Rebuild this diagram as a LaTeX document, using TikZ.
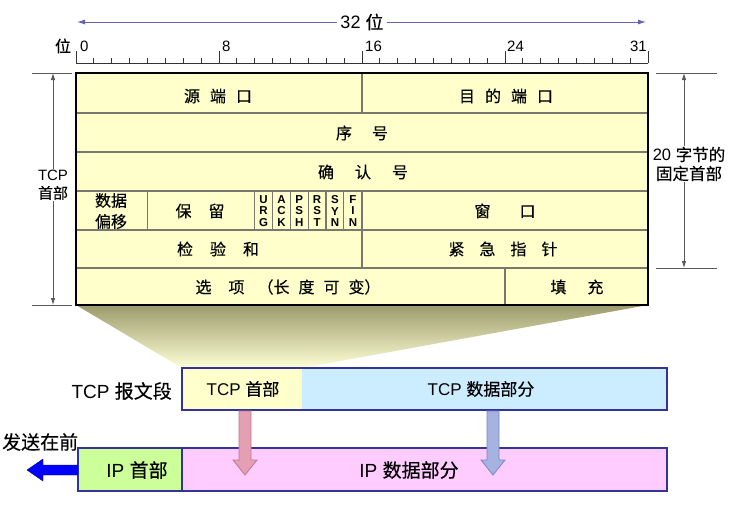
\documentclass[tikz,border=0pt]{standalone}
\usepackage{fontspec}
\setmainfont{Liberation Sans}
\newfontfamily\cjk[FakeBold=0.35]{Noto Sans CJK SC}
\newcommand\zh[1]{{\cjk #1}}
\usetikzlibrary{arrows.meta}
\definecolor{tblfill}{RGB}{255,255,204}
\definecolor{tcpdata}{RGB}{204,236,255}
\definecolor{iphdr}{RGB}{204,255,153}
\definecolor{ipdata}{RGB}{255,204,255}
\definecolor{boxline}{RGB}{51,51,153}
\definecolor{shtop}{RGB}{155,155,108}
\definecolor{shbot}{RGB}{255,255,214}
\definecolor{bitarrow}{RGB}{100,100,180}
\definecolor{rowline}{RGB}{120,120,110}
\definecolor{pinkfill}{RGB}{228,160,178}
\definecolor{pinkline}{RGB}{190,120,150}
\definecolor{bluefill}{RGB}{166,178,224}
\definecolor{blueline}{RGB}{120,135,195}
\tikzset{
  tbltext/.style={font=\fontsize{16}{18}\selectfont, inner sep=1pt},
  flagtext/.style={font=\fontsize{11.5}{11.7}\selectfont\bfseries, align=center, inner sep=0pt},
  dimtext/.style={font=\fontsize{15}{18}\selectfont, align=center, fill=white, inner sep=1pt},
  seglabel/.style={font=\fontsize{17}{20}\selectfont, inner sep=1pt},
  biglabel/.style={font=\fontsize{19}{22}\selectfont, inner sep=1pt},
  bitnum/.style={font=\fontsize{15}{17}\selectfont, inner sep=1pt},
  rowsep/.style={draw=rowline, line width=1.1pt},
  dimline/.style={draw=black!65, line width=0.8pt},
  dimtip/.style={{Latex[length=7pt,width=4.5pt]}-{Latex[length=7pt,width=4.5pt]}},
  segbox/.style={draw=boxline, line width=1.4pt},
}
\begin{document}
\begin{tikzpicture}[x=1pt,y=-1pt]
\useasboundingbox (0,0) rectangle (743,514);
% ---------- coordinates
\coordinate (TL) at (76,73);
\coordinate (TR) at (648,73);
\coordinate (BL) at (76,305);
\coordinate (BR) at (648,305);
% ---------- trapezoid
\coordinate (SL) at (182,368);
\coordinate (SM) at (302,368);
\shade[top color=shtop, bottom color=shbot] (BL) -- (BR) -- (SM) -- (SL) -- cycle;
% ---------- table
\fill[tblfill] (TL) rectangle (BR);
\foreach \yy in {113,152,191,230,268} \draw[rowsep] (76,\yy) -- (648,\yy);
\draw[rowsep] (362,73) -- (362,113);
\foreach \xx in {147.5,254.5,272.4,290.3,308.1,326,343.9,362} \draw[rowsep] (\xx,191) -- (\xx,230);
\draw[rowsep] (362,230) -- (362,268);
\draw[rowsep] (505,268) -- (505,305);
\draw[line width=2pt] (TL) rectangle (BR);
% ---------- table texts
\node[tbltext] (srcport) at (218,96) {\zh{源\hspace{10pt}端\hspace{10pt}口}};
\node[tbltext] (dstport) at (506,96) {\zh{目\hspace{10pt}的\hspace{10pt}端\hspace{10pt}口}};
\node[tbltext] (seq) at (362,133) {\zh{序\hspace{20pt}号}};
\node[tbltext] (ack) at (363,172) {\zh{确\hspace{21pt}认\hspace{21pt}号}};
\node[tbltext, align=center, font=\fontsize{16}{21}\selectfont] (offset) at (111,211) {\zh{数据}\\\zh{偏移}};
\node[tbltext] (resv) at (200,211) {\zh{保\hspace{17pt}留}};
\node[flagtext] (urg) at (263.5,211) {U\\R\\G};
\node[flagtext] (ackf) at (281.4,211) {A\\C\\K};
\node[flagtext] (psh) at (299.2,211) {P\\S\\H};
\node[flagtext] (rst) at (317.1,211) {R\\S\\T};
\node[flagtext] (syn) at (335,211) {S\\Y\\N};
\node[flagtext] (fin) at (352.9,211) {F\\I\\N};
\node[tbltext] (win) at (505,211) {\zh{窗\hspace{29pt}口}};
\node[tbltext] (chk) at (218,249) {\zh{检\hspace{17pt}验\hspace{17pt}和}};
\node[tbltext] (urgp) at (503,249) {\zh{紧\hspace{15pt}急\hspace{15pt}指\hspace{15pt}针}};
\node[tbltext] (opt) at (288,287) {\zh{选\hspace{17pt}项\hspace{13pt}（长\hspace{9pt}度\hspace{9pt}可\hspace{9pt}变）}};
\node[tbltext] (pad) at (577,287) {\zh{填\hspace{21pt}充}};
% ---------- ruler
\draw[line width=0.8pt, black!80] (76,63) -- (648,63);
\foreach \k in {0,...,32}{
  \pgfmathsetmacro{\xx}{76+17.875*\k}
  \pgfmathtruncatemacro{\mm}{mod(\k,8)}
  \ifnum\mm=0
    \draw[line width=0.8pt, black!80] (\xx,63) -- (\xx,51);
  \else
    \draw[line width=0.8pt, black!80] (\xx,63) -- (\xx,58);
  \fi
}
\node[bitnum, anchor=south west] (b0) at (79,53) {0};
\node[bitnum, anchor=south west] (b8) at (221,53) {8};
\node[bitnum, anchor=south west] (b16) at (364,53) {16};
\node[bitnum, anchor=south west] (b24) at (506,53) {24};
\node[bitnum, anchor=south east] (b31) at (648,53) {31};
\node[font=\fontsize{16}{18}\selectfont, inner sep=1pt] (wei) at (63,46) {\zh{位}};
% ---------- 32 bit arrow
\coordinate (AL) at (77,22);
\coordinate (AR) at (646,22);
\draw[bitarrow, line width=0.8pt, {Latex[length=8pt,width=5pt]}-{Latex[length=8pt,width=5pt]}] (AL) -- (AR);
\node[font=\fontsize{18}{20}\selectfont, fill=white, inner sep=3pt] (bits) at (362,22) {32 \zh{位}};
% ---------- left dimension
\coordinate (LT) at (53,73);
\coordinate (LB) at (53,305);
\draw[dimline] (32,73) -- (72,73);
\draw[dimline] (32,305) -- (72,305);
\draw[dimline, dimtip] (LT) -- (LB);
\node[dimtext] (tcphdrdim) at (53,185) {TCP\\\zh{首部}};
% ---------- right dimension
\coordinate (RT) at (684,73);
\coordinate (RB) at (684,268);
\draw[dimline] (656,73) -- (717,73);
\draw[dimline] (656,268) -- (717,268);
\draw[dimline, dimtip] (RT) -- (RB);
\node[dimtext, font=\fontsize{16.5}{19}\selectfont] (fixdim) at (689,164) {20 \zh{字节的}\\\zh{固定首部}};
% ---------- TCP segment
\fill[tblfill] (182,368) rectangle (302,410);
\fill[tcpdata] (302,368) rectangle (667,410);
\draw[segbox] (182,368) rectangle (667,410);
\node[seglabel] (tcph) at (243,389) {TCP \zh{首部}};
\node[seglabel] (tcpd) at (481,389) {TCP \zh{数据部分}};
\node[biglabel, anchor=east] (seglab) at (173,391) {TCP \zh{报文段}};
% ---------- IP datagram
\fill[iphdr] (78,448) rectangle (182,491);
\fill[ipdata] (182,448) rectangle (667,491);
\draw[segbox] (78,448) rectangle (667,491);
\draw[segbox] (182,448) -- (182,491);
\node[biglabel] (iph) at (137,470) {IP \zh{首部}};
\node[biglabel] (ipd) at (409,470) {IP \zh{数据部分}};
\node[biglabel, anchor=west] (send) at (1,442) {\zh{发送在前}};
% ---------- send arrow
\fill[blue] (78,465) -- (43,465) -- (43,459) -- (27,470) -- (43,481) -- (43,475) -- (78,475) -- cycle;
\draw[blue!50!black, line width=0.4pt] (78,465) -- (43,465) -- (43,459) -- (27,470) -- (43,481) -- (43,475) -- (78,475);
% ---------- down arrows
\filldraw[fill=pinkfill, draw=pinkline, line width=0.8pt] (239,411) -- (251,411) -- (251,460) -- (257,460) -- (245,475) -- (233,460) -- (239,460) -- cycle;
\filldraw[fill=bluefill, draw=blueline, line width=0.8pt] (487,411) -- (499,411) -- (499,460) -- (505,460) -- (493,475) -- (481,460) -- (487,460) -- cycle;
\end{tikzpicture}
\end{document}
